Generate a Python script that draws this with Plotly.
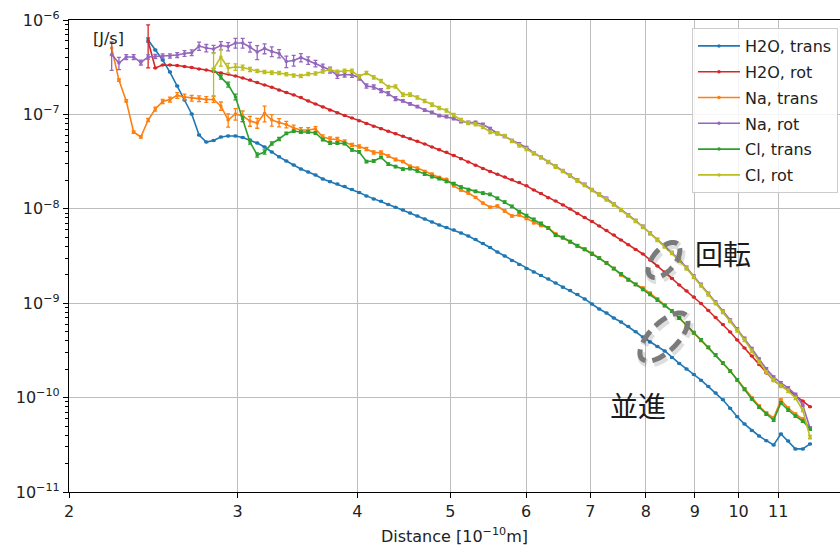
import numpy as np
import plotly.graph_objects as go

# ---------------- data ----------------
distance = [
    2.216, 2.255, 2.295, 2.336, 2.377, 2.419, 2.461, 2.505, 2.549, 2.594,
    2.640, 2.686, 2.734, 2.782, 2.831, 2.881, 2.932, 2.984, 3.036, 3.090,
    3.144, 3.200, 3.256, 3.314, 3.372, 3.432, 3.492, 3.554, 3.617, 3.681,
    3.746, 3.812, 3.879, 3.948, 4.017, 4.088, 4.160, 4.234, 4.308, 4.384,
    4.462, 4.540, 4.620, 4.702, 4.785, 4.869, 4.955, 5.042, 5.131, 5.222,
    5.314, 5.408, 5.503, 5.600, 5.699, 5.799, 5.902, 6.006, 6.112, 6.219,
    6.329, 6.441, 6.554, 6.670, 6.787, 6.907, 7.029, 7.153, 7.279, 7.408,
    7.538, 7.671, 7.807, 7.944, 8.084, 8.227, 8.372, 8.520, 8.670, 8.823,
    8.979, 9.137, 9.298, 9.462, 9.629, 9.799, 9.967, 10.143, 10.322, 10.504,
    10.689, 10.878, 11.070, 11.265, 11.464, 11.666, 11.872,
]

h2o_start = 5
na_start = 0
cl_start = 14

h2o_trans = [
    6.14e-7, 4.81e-7, 3.77e-7, 2.81e-7, 2.00e-7, 1.42e-7, 1.01e-7, 6.05e-8, 5.10e-8, 5.29e-8,
    5.77e-8, 5.91e-8, 5.91e-8, 5.70e-8, 5.36e-8, 4.98e-8, 4.51e-8, 4.00e-8, 3.55e-8, 3.21e-8,
    2.91e-8, 2.64e-8, 2.45e-8, 2.28e-8, 2.07e-8, 1.94e-8, 1.83e-8, 1.72e-8, 1.60e-8, 1.49e-8,
    1.37e-8, 1.27e-8, 1.20e-8, 1.11e-8, 1.04e-8, 9.71e-9, 9.02e-9, 8.39e-9, 7.80e-9, 7.25e-9,
    6.74e-9, 6.34e-9, 5.96e-9, 5.54e-9, 5.15e-9, 4.72e-9, 4.29e-9, 3.89e-9, 3.48e-9, 3.16e-9,
    2.83e-9, 2.57e-9, 2.33e-9, 2.14e-9, 1.96e-9, 1.80e-9, 1.64e-9, 1.48e-9, 1.36e-9, 1.24e-9,
    1.11e-9, 9.81e-10, 8.68e-10, 7.88e-10, 6.97e-10, 6.32e-10, 5.67e-10, 4.98e-10, 4.38e-10, 3.88e-10,
    3.48e-10, 3.12e-10, 2.66e-10, 2.30e-10, 2.01e-10, 1.76e-10, 1.53e-10, 1.31e-10, 1.12e-10, 9.48e-11,
    7.71e-11, 6.26e-11, 5.24e-11, 4.48e-11, 3.92e-11, 3.50e-11, 3.15e-11, 4.12e-11, 3.47e-11, 2.86e-11,
    2.86e-11, 3.23e-11,
]
h2o_rot = [
    5.99e-7, 3.10e-7, 3.34e-7, 3.34e-7, 3.30e-7, 3.22e-7, 3.14e-7, 3.03e-7, 2.95e-7, 2.85e-7,
    2.75e-7, 2.68e-7, 2.55e-7, 2.43e-7, 2.31e-7, 2.18e-7, 2.05e-7, 1.94e-7, 1.81e-7, 1.71e-7,
    1.61e-7, 1.51e-7, 1.39e-7, 1.29e-7, 1.20e-7, 1.11e-7, 1.04e-7, 9.76e-8, 9.16e-8, 8.56e-8,
    7.99e-8, 7.48e-8, 7.06e-8, 6.64e-8, 6.25e-8, 5.88e-8, 5.53e-8, 5.19e-8, 4.86e-8, 4.51e-8,
    4.23e-8, 3.97e-8, 3.68e-8, 3.40e-8, 3.13e-8, 2.89e-8, 2.67e-8, 2.49e-8, 2.32e-8, 2.17e-8,
    2.03e-8, 1.90e-8, 1.75e-8, 1.58e-8, 1.45e-8, 1.31e-8, 1.21e-8, 1.10e-8, 9.95e-9, 8.92e-9,
    8.07e-9, 7.35e-9, 6.58e-9, 5.89e-9, 5.28e-9, 4.67e-9, 4.16e-9, 3.71e-9, 3.32e-9, 2.87e-9,
    2.48e-9, 2.14e-9, 1.83e-9, 1.56e-9, 1.35e-9, 1.16e-9, 9.93e-10, 8.37e-10, 7.06e-10, 5.95e-10,
    4.95e-10, 4.08e-10, 3.35e-10, 2.76e-10, 2.24e-10, 1.82e-10, 1.52e-10, 1.34e-10, 1.21e-10, 1.05e-10,
    9.20e-11, 8.01e-11,
]
na_trans = [
    5.05e-7, 2.31e-7, 1.39e-7, 6.51e-8, 5.77e-8, 8.72e-8, 1.14e-7, 1.37e-7, 1.44e-7, 1.59e-7,
    1.53e-7, 1.49e-7, 1.47e-7, 1.44e-7, 1.44e-7, 1.23e-7, 8.72e-8, 1.01e-7, 9.62e-8, 8.51e-8,
    8.11e-8, 1.03e-7, 8.72e-8, 8.21e-8, 7.82e-8, 7.18e-8, 6.84e-8, 6.84e-8, 7.01e-8, 5.77e-8,
    5.49e-8, 5.42e-8, 5.10e-8, 4.74e-8, 4.57e-8, 4.30e-8, 3.95e-8, 3.94e-8, 3.62e-8, 3.33e-8,
    3.17e-8, 2.83e-8, 2.70e-8, 2.49e-8, 2.33e-8, 2.15e-8, 2.05e-8, 1.75e-8, 1.58e-8, 1.47e-8,
    1.32e-8, 1.15e-8, 1.04e-8, 1.07e-8, 9.48e-9, 8.39e-9, 8.60e-9, 7.90e-9, 7.12e-9, 6.66e-9,
    6.26e-9, 5.41e-9, 4.90e-9, 4.45e-9, 4.09e-9, 3.75e-9, 3.38e-9, 3.01e-9, 2.67e-9, 2.33e-9,
    1.99e-9, 1.76e-9, 1.58e-9, 1.45e-9, 1.28e-9, 1.11e-9, 9.57e-10, 8.27e-10, 6.97e-10, 5.88e-10,
    4.83e-10, 4.03e-10, 3.40e-10, 2.82e-10, 2.32e-10, 1.91e-10, 1.54e-10, 1.24e-10, 9.90e-11, 8.15e-11,
    6.87e-11, 6.08e-11, 9.43e-11, 7.76e-11, 6.70e-11, 5.93e-11, 4.76e-11,
]
na_rot = [
    4.30e-7, 3.50e-7, 4.06e-7, 4.06e-7, 3.55e-7, 4.06e-7, 4.11e-7, 4.16e-7, 4.16e-7, 4.26e-7,
    4.42e-7, 4.51e-7, 5.30e-7, 5.05e-7, 4.93e-7, 5.37e-7, 5.24e-7, 5.71e-7, 5.71e-7, 5.18e-7,
    4.58e-7, 4.99e-7, 4.64e-7, 4.42e-7, 3.64e-7, 3.73e-7, 4.01e-7, 3.73e-7, 3.46e-7, 3.18e-7,
    2.95e-7, 2.59e-7, 2.65e-7, 2.62e-7, 2.46e-7, 2.00e-7, 1.95e-7, 1.79e-7, 1.66e-7, 1.47e-7,
    1.39e-7, 1.29e-7, 1.21e-7, 1.11e-7, 1.05e-7, 9.73e-8, 9.45e-8, 9.05e-8, 8.41e-8, 8.21e-8,
    8.21e-8, 7.82e-8, 7.09e-8, 6.28e-8, 5.84e-8, 5.29e-8, 4.86e-8, 4.46e-8, 3.90e-8, 3.55e-8,
    3.13e-8, 2.83e-8, 2.52e-8, 2.25e-8, 2.02e-8, 1.81e-8, 1.58e-8, 1.42e-8, 1.29e-8, 1.12e-8,
    9.71e-9, 8.60e-9, 7.51e-9, 6.50e-9, 5.54e-9, 4.72e-9, 4.04e-9, 3.44e-9, 2.90e-9, 2.39e-9,
    1.94e-9, 1.58e-9, 1.27e-9, 1.03e-9, 8.27e-10, 6.64e-10, 5.33e-10, 4.23e-10, 3.31e-10, 2.56e-10,
    2.01e-10, 1.65e-10, 1.43e-10, 1.27e-10, 1.08e-10, 8.35e-11, 4.76e-11,
]
cl_trans = [
    2.95e-7, 2.49e-7, 2.07e-7, 1.53e-7, 8.94e-8, 5.10e-8, 3.72e-8, 4.00e-8, 4.92e-8, 5.49e-8,
    6.28e-8, 6.67e-8, 6.51e-8, 6.51e-8, 6.35e-8, 5.42e-8, 4.98e-8, 4.98e-8, 4.92e-8, 4.20e-8,
    4.00e-8, 3.17e-8, 3.21e-8, 3.50e-8, 2.98e-8, 2.80e-8, 2.64e-8, 2.67e-8, 2.52e-8, 2.33e-8,
    2.19e-8, 2.09e-8, 1.95e-8, 1.85e-8, 1.70e-8, 1.60e-8, 1.53e-8, 1.47e-8, 1.42e-8, 1.29e-8,
    1.18e-8, 1.06e-8, 9.36e-9, 8.49e-9, 7.71e-9, 6.99e-9, 6.26e-9, 5.28e-9, 4.97e-9, 4.50e-9,
    4.04e-9, 3.71e-9, 3.32e-9, 3.01e-9, 2.67e-9, 2.33e-9, 2.04e-9, 1.78e-9, 1.58e-9, 1.40e-9,
    1.24e-9, 1.08e-9, 9.45e-10, 8.27e-10, 6.97e-10, 5.88e-10, 4.89e-10, 4.08e-10, 3.40e-10, 2.82e-10,
    2.32e-10, 1.91e-10, 1.54e-10, 1.22e-10, 9.67e-11, 7.95e-11, 6.70e-11, 5.79e-11, 8.77e-11, 7.39e-11,
    6.38e-11, 5.65e-11, 4.65e-11,
]
cl_rot = [
    3.03e-7, 4.06e-7, 3.10e-7, 3.18e-7, 3.14e-7, 2.99e-7, 2.88e-7, 2.81e-7, 2.77e-7, 2.75e-7,
    2.66e-7, 2.59e-7, 2.55e-7, 2.68e-7, 2.71e-7, 2.85e-7, 2.99e-7, 2.83e-7, 2.90e-7, 2.90e-7,
    2.52e-7, 2.75e-7, 2.47e-7, 2.26e-7, 1.95e-7, 1.98e-7, 1.62e-7, 1.62e-7, 1.51e-7, 1.39e-7,
    1.27e-7, 1.17e-7, 1.10e-7, 9.86e-8, 8.72e-8, 8.11e-8, 7.86e-8, 7.35e-8, 6.51e-8, 6.28e-8,
    5.91e-8, 5.24e-8, 4.70e-8, 4.30e-8, 3.87e-8, 3.51e-8, 3.13e-8, 2.80e-8, 2.52e-8, 2.25e-8,
    1.99e-8, 1.79e-8, 1.58e-8, 1.42e-8, 1.26e-8, 1.11e-8, 9.71e-9, 8.49e-9, 7.43e-9, 6.42e-9,
    5.48e-9, 4.67e-9, 3.99e-9, 3.40e-9, 2.83e-9, 2.33e-9, 1.90e-9, 1.54e-9, 1.24e-9, 1.00e-9,
    8.07e-10, 6.48e-10, 5.14e-10, 4.08e-10, 3.12e-10, 2.38e-10, 1.87e-10, 1.54e-10, 1.33e-10, 1.18e-10,
    9.90e-11, 7.39e-11, 3.82e-11,
]

# relative error (leading points read individually, then a typical small value)
h2o_trans_err_lead, h2o_trans_err_tail = [0.05], 0.015
h2o_rot_err_lead, h2o_rot_err_tail = [0.48], 0.01
na_trans_err_lead = [0.17, 0.03, 0.03, 0.03, 0.03, 0.04, 0.05, 0.05, 0.06, 0.07,
                     0.07, 0.07, 0.07, 0.07, 0.07, 0.10, 0.16, 0.14, 0.13, 0.12,
                     0.12, 0.19, 0.14, 0.10, 0.08, 0.07, 0.06, 0.06, 0.06, 0.05,
                     0.05, 0.05, 0.05, 0.04, 0.04, 0.04, 0.04, 0.04, 0.03, 0.03]
na_trans_err_tail = 0.025
na_rot_err_lead = [0.32, 0.15, 0.06, 0.06, 0.06, 0.05, 0.05, 0.05, 0.05, 0.06,
                   0.07, 0.07, 0.10, 0.09, 0.09, 0.10, 0.10, 0.12, 0.12, 0.12,
                   0.17, 0.12, 0.12, 0.10, 0.14, 0.13, 0.10, 0.09, 0.08, 0.07,
                   0.07, 0.07, 0.06, 0.06, 0.06, 0.05, 0.05, 0.05, 0.05, 0.05]
na_rot_err_tail = 0.03
cl_trans_err_lead = [0.04, 0.05, 0.06, 0.07, 0.06, 0.05, 0.05, 0.05, 0.04, 0.04]
cl_trans_err_tail = 0.03
cl_rot_err_lead = [0.48, 0.20, 0.12, 0.08, 0.06, 0.05]
cl_rot_err_tail = 0.04

series_names = ["H2O, trans", "H2O, rot", "Na, trans", "Na, rot", "Cl, trans", "Cl, rot"]

x_ticks = [2, 3, 4, 5, 6, 7, 8, 9, 10, 11]
x_ticktext = ["2", "3", "4", "5", "6", "7", "8", "9", "10", "11"]
y_ticks = [1e-11, 1e-10, 1e-9, 1e-8, 1e-7, 1e-6]
y_ticktext = ["10<sup>−11</sup>", "10<sup>−10</sup>", "10<sup>−9</sup>",
              "10<sup>−8</sup>", "10<sup>−7</sup>", "10<sup>−6</sup>"]

# ---------------- figure ----------------
W, H = 840, 547
ML, MR, MT, MB = 69, 0, 20, 55
PW, PH = W - ML - MR, H - MT - MB

colors = ["#1f77b4", "#d62728", "#ff7f0e", "#9467bd", "#2ca02c", "#bcbd22"]


def full_err(vals, lead, tail):
    rel = list(lead) + [tail] * (len(vals) - len(lead))
    return [v * r for v, r in zip(vals, rel)]


series = [
    (h2o_trans, h2o_start, h2o_trans_err_lead, h2o_trans_err_tail),
    (h2o_rot, h2o_start, h2o_rot_err_lead, h2o_rot_err_tail),
    (na_trans, na_start, na_trans_err_lead, na_trans_err_tail),
    (na_rot, na_start, na_rot_err_lead, na_rot_err_tail),
    (cl_trans, cl_start, cl_trans_err_lead, cl_trans_err_tail),
    (cl_rot, cl_start, cl_rot_err_lead, cl_rot_err_tail),
]

fig = go.Figure()
for k, (vals, start, lead, tail) in enumerate(series):
    xs = distance[start:start + len(vals)]
    fig.add_trace(go.Scatter(
        x=xs, y=vals, mode="lines+markers", name=series_names[k],
        legendgroup=series_names[k],
        line=dict(color=colors[k], width=1.6),
        marker=dict(color=colors[k], size=3.5),
        error_y=dict(type="data", array=full_err(vals, lead, tail),
                     color=colors[k], thickness=1.3, width=2),
    ))


def px_to_paper(px, py):
    return (np.asarray(px) - ML) / PW, (H - MB - np.asarray(py)) / PH


def ellipse_path(cx, cy, a, b, ang):
    t = np.linspace(0, 2 * np.pi, 73)
    th = np.deg2rad(ang)
    px = cx + a * np.cos(t) * np.cos(th) - b * np.sin(t) * np.sin(th)
    py = cy - (a * np.cos(t) * np.sin(th) + b * np.sin(t) * np.cos(th))
    X, Y = px_to_paper(px, py)
    return "M " + " L ".join(f"{x:.5f},{y:.5f}" for x, y in zip(X, Y)) + " Z"


shapes = []
for (cx, cy, a, b, ang) in [(664, 260, 21, 11, 50), (664, 337, 31, 14, 45)]:
    shapes.append(dict(type="path", xref="paper", yref="paper",
                       path=ellipse_path(cx + 1.5, cy + 2.5, a, b, ang),
                       line=dict(color="rgba(0,0,0,0.13)", width=8, dash="14px,7px")))
    shapes.append(dict(type="path", xref="paper", yref="paper",
                       path=ellipse_path(cx, cy, a, b, ang),
                       line=dict(color="#7a7a7a", width=5, dash="14px,7px")))

minor_vals = [m * 10.0 ** e for e in range(-11, -6) for m in range(2, 10)]

fig.update_layout(
    width=W, height=H,
    margin=dict(l=ML, r=MR, t=MT, b=MB, pad=0),
    paper_bgcolor="white", plot_bgcolor="white",
    font=dict(family="DejaVu Sans", size=16, color="#222222"),
    showlegend=True,
    legend=dict(x=(838 - ML) / PW, y=(H - MB - 28) / PH, xanchor="right", yanchor="top",
                bgcolor="rgba(255,255,255,0.85)", bordercolor="#cccccc", borderwidth=1,
                font=dict(size=16), tracegroupgap=2, itemwidth=42),
    shapes=shapes,
)

fig.update_xaxes(
    type="log", range=[np.log10(2), np.log10(2) + PW / 958.0],
    tickmode="array", tickvals=x_ticks, ticktext=x_ticktext,
    showgrid=True, gridcolor="#bdbdbd", gridwidth=1.2,
    showline=True, linecolor="black", linewidth=1.2, mirror=True,
    ticks="outside", ticklen=5, tickcolor="black",
    tickfont=dict(size=16, color="#222222"),
    title=dict(text="Distance [10<sup>−10</sup>m]", font=dict(size=16), standoff=10),
    zeroline=False,
)
fig.update_yaxes(
    type="log", range=[-11, -6],
    tickmode="array", tickvals=y_ticks, ticktext=y_ticktext,
    showgrid=True, gridcolor="#bdbdbd", gridwidth=1.2,
    showline=True, linecolor="black", linewidth=1.2, mirror=False,
    ticks="outside", ticklen=5, tickcolor="black",
    tickfont=dict(size=16, color="#222222"),
    minor=dict(tickmode="array", tickvals=minor_vals, ticks="outside", ticklen=3,
               tickcolor="black", showgrid=False),
    zeroline=False,
)

fig.add_annotation(x=(108 - ML) / PW, y=(H - MB - 38) / PH, xref="paper", yref="paper",
                   xanchor="center", yanchor="middle",
                   text="[J/s]", showarrow=False, font=dict(size=16, color="#222222"))
fig.add_annotation(x=(723 - ML) / PW, y=(H - MB - 253) / PH, xref="paper", yref="paper",
                   xanchor="center", yanchor="middle",
                   text="回転", showarrow=False,
                   font=dict(family="Noto Sans CJK JP", size=28, color="#1a1a1a"))
fig.add_annotation(x=(638 - ML) / PW, y=(H - MB - 405) / PH, xref="paper", yref="paper",
                   xanchor="center", yanchor="middle",
                   text="並進", showarrow=False,
                   font=dict(family="Noto Sans CJK JP", size=28, color="#1a1a1a"))

fig.write_html("out.html")
